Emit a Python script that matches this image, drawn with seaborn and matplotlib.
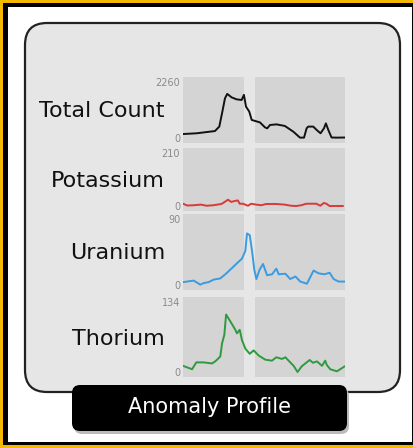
import numpy as np
import pandas as pd
import matplotlib
matplotlib.use("Agg")
import matplotlib.pyplot as plt
import seaborn as sns
from matplotlib.patches import FancyBboxPatch, Rectangle
from matplotlib.transforms import IdentityTransform

# --- data (distance along profile, 0-100) ---
tc_x = [0, 8.4, 14.6, 19.7, 22.4, 24.5, 25.9, 27.3, 30, 33.1, 36.2, 37.6, 38.9, 40.9,
        42.4, 44.4, 47.5, 50.6, 52, 53.7, 57.8, 62.9, 68.1, 72.2, 74.7, 76.3, 77.3,
        80.4, 82.5, 84.9, 87, 88.2, 89.7, 91.7, 94.8, 100]
tc_y = [160, 190, 240, 280, 460, 1130, 1600, 1780, 1640, 1560, 1535, 1740, 1265, 1065,
        730, 690, 630, 430, 390, 525, 550, 485, 255, 15, 15, 390, 460,
        460, 325, 190, 390, 590, 325, 20, 15, 20]

k_x = [0, 2.6, 6.7, 11.1, 14.6, 18.7, 23.7, 25.7, 27.8, 29.8, 31.9, 33.9, 35, 37,
       40.1, 42.1, 45.2, 48.3, 51.4, 57.6, 62.7, 66.8, 69.9, 73, 76.1, 82.3, 84.8,
       86.9, 88.5, 90.5, 94.7, 96.7, 98.8]
k_y = [9, 2, 3, 5.5, 1, 3, 8, 16, 25, 16, 20, 22, 9, 9,
       1, 9, 5.5, 3, 8, 8, 5.5, 1, 0, 3, 9, 9, 1,
       12, 9, 0, 0, 0, 0]

u_x = [0, 6.6, 10.7, 12.8, 15.8, 18.9, 23, 26.1, 30.2, 33.3, 36.4, 38.5, 39.5, 41.2,
       42.6, 44, 45.3, 47.3, 49.4, 51.9, 55, 57.6, 59.1, 63.2, 66.2, 69.4, 72.4, 76.5,
       80.6, 83.7, 87.2, 90.5, 93, 96, 100]
u_y = [3.9, 6, 0.5, 2.6, 3.9, 7.3, 9, 14.6, 23, 29.6, 36, 46.7, 70.3, 68,
       46.7, 21, 8.1, 21, 28.7, 13.3, 14.6, 22.3, 14.6, 15.4, 8.1, 11.6, 4.7, 1.7,
       19.7, 15.9, 14.6, 16.7, 8.1, 4.7, 4.7]

th_x = [0, 5.6, 8.2, 12.8, 17.9, 19.9, 23, 24.1, 25.5, 26.6, 29.2, 32.3, 33.3, 35,
        36.4, 38.5, 41.2, 43.6, 46.7, 50.8, 54.9, 57.6, 61.1, 63.2, 66.2, 68.3, 70.7,
        73.4, 78.2, 80.2, 82.7, 85.8, 87.8, 88.8, 90.9, 95, 98, 100]
th_y = [11.8, 5.3, 18.4, 18.4, 16.4, 20.3, 29.6, 54.5, 71, 110, 97, 80.8, 74, 80.8,
        61, 44.7, 34.8, 41.4, 31.5, 23.6, 21.7, 28.2, 25, 28.2, 18.4, 11.8, 0,
        11.2, 23, 17.7, 20.3, 11.8, 21.7, 13.3, 5.3, 1.3, 7.2, 11.2]

names = ["Total Count", "Potassium", "Uranium", "Thorium"]
maxima = [2260, 210, 90, 134]
colors = ["#111111", "#d83a3a", "#3b9be0", "#2e9a3e"]
series = [(tc_x, tc_y), (k_x, k_y), (u_x, u_y), (th_x, th_y)]

W, H = 414, 448
fig = plt.figure(figsize=(W / 100, H / 100), dpi=100, facecolor="black")
sns.set_style("white")
plt.rcParams["font.family"] = ["DejaVu Sans"]

def px(x0, y0, w, h):
    # pixel box (top-left origin) -> display coords
    return x0, H - y0 - h, w, h

def add_patch(p, z=-5):
    p.set_zorder(z)
    fig.patches.append(p)

# yellow frame + white card
for r in [px(0, 0, 3, H), px(0, 0, W, 3), px(0, H - 3, W, 3)]:
    add_patch(Rectangle(r[:2], r[2], r[3], transform=IdentityTransform(),
                        facecolor="#f5b800", edgecolor="none"))
x, y, w, h = px(8, 7, 404, 435)
add_patch(Rectangle((x, y), w, h, transform=IdentityTransform(),
                    facecolor="white", edgecolor="none"))
x, y, w, h = px(25, 23, 375, 369)
add_patch(FancyBboxPatch((x, y), w, h, boxstyle="round,pad=0,rounding_size=22",
                         transform=IdentityTransform(), facecolor="#e6e6e6",
                         edgecolor="#222222", linewidth=1.6))

# panels: top, bottom pixel rows
rows = [(77, 143), (148, 211), (214, 290), (297, 377)]
label_y = [111, 181, 253, 339]
ax_l, ax_r = 183, 345

for i, (name, mx, col, (sx, sy)) in enumerate(zip(names, maxima, colors, series)):
    top, bot = rows[i]
    ax = fig.add_axes([ax_l / W, 1 - bot / H, (ax_r - ax_l) / W, (bot - top) / H])
    ax.set_zorder(5)
    ax.set_facecolor("none")
    ax.axvspan(0, 37.4, color="#d4d4d4", lw=0, zorder=0)
    ax.axvspan(44.4, 100, color="#d4d4d4", lw=0, zorder=0)
    df = pd.DataFrame({"d": sx, "v": sy})
    sns.lineplot(data=df, x="d", y="v", ax=ax, color=col, linewidth=1.4, zorder=3)
    pad = mx * 5.0 / (bot - top - 10)
    ax.set_ylim(-pad, mx + pad)
    ax.set_xlim(0, 100)
    ax.set_yticks([0, mx])
    ax.set_yticklabels(["0", str(mx)], fontsize=7, color="#8a8a8a")
    ax.tick_params(axis="y", length=0, pad=2)
    ax.set_xticks([])
    ax.set_xlabel("")
    ax.set_ylabel("")
    for s in ax.spines.values():
        s.set_visible(False)
    fig.text(165 / W, 1 - label_y[i] / H, name, ha="right", va="center",
             fontsize=16, color="#111111")

# bottom label with a soft shadow
x, y, w, h = px(74, 388, 275, 46)
add_patch(FancyBboxPatch((x, y), w, h, boxstyle="round,pad=0,rounding_size=8",
                         transform=IdentityTransform(), facecolor="#bbbbbb",
                         edgecolor="none"))
x, y, w, h = px(72, 385, 275, 46)
add_patch(FancyBboxPatch((x, y), w, h, boxstyle="round,pad=0,rounding_size=8",
                         transform=IdentityTransform(), facecolor="black",
                         edgecolor="none"), z=-4)
fig.text(210 / W, 1 - 407 / H, "Anomaly Profile", ha="center", va="center",
         fontsize=15, color="white")

fig.savefig("out.png", dpi=100, facecolor="black")
